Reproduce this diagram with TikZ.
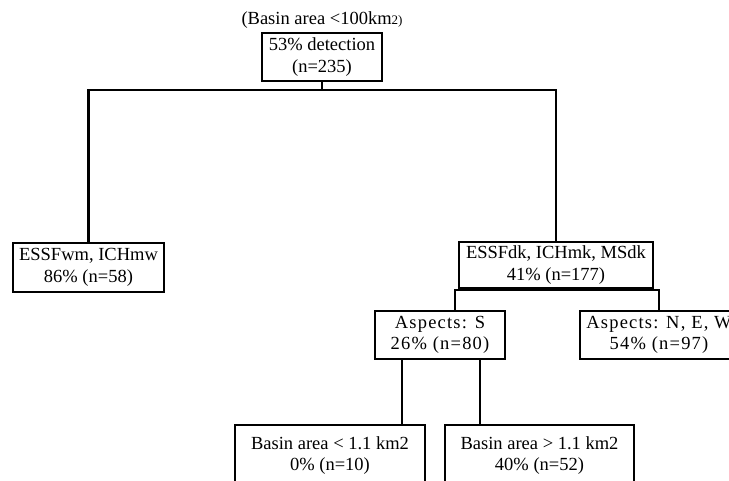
\documentclass[tikz,border=0pt]{standalone}
\usepackage{fontspec}
\setmainfont{Liberation Serif}
\begin{document}
\begin{tikzpicture}[x=1pt,y=-1pt,
  box/.style={draw=black, line width=2.2pt, fill=white, align=center,
    inner sep=0pt, font=\fontsize{18.5}{21.5}\selectfont},
  spaced/.style={font=\fontsize{18.5}{21.5}\selectfont\addfontfeature{LetterSpace=6.5}},
  conn/.style={draw=black, line width=2.4pt},
  lbl/.style={inner sep=0pt, font=\fontsize{18.5}{21.5}\selectfont}]
\useasboundingbox (0,0) rectangle (729,481);
\clip (0,0) rectangle (729,481);
% title
\node[lbl] (title) at (322,20) {(Basin area <100km{\fontsize{13}{15}\selectfont 2)}};
% nodes
\node[box, minimum width=120pt, minimum height=48pt] (top) at (322,57) {53\% detection\\(n=235)};
\node[box, minimum width=151pt, minimum height=49pt] (L1) at (88.5,267.5) {ESSFwm, ICHmw\\86\% (n=58)};
\node[box, minimum width=194pt, minimum height=46pt] (R1) at (556,265) {ESSFdk, ICHmk, MSdk\\41\% (n=177)};
\node[box, spaced, minimum width=130pt, minimum height=48pt] (S) at (440,335) {Aspects: S\\26\% (n=80)};
\node[box, spaced, minimum width=158pt, minimum height=48pt] (NEW) at (659,335) {Aspects: N, E, W\\54\% (n=97)};
\node[box, minimum width=190pt, minimum height=61pt] (B1) at (330,455.5) {Basin area < 1.1 km2\\0\% (n=10)};
\node[box, minimum width=189pt, minimum height=61pt] (B2) at (539.5,455.5) {Basin area > 1.1 km2\\40\% (n=52)};
% connectors
\coordinate (j0) at (322,90);
\coordinate (j1) at (556,290);
\draw[conn] (top.south) -- (j0);
\draw[conn] (L1.north) |- (j0) -| (R1.north);
\draw[conn] (R1.south) -- (j1);
\draw[conn] ([xshift=15pt]S.north) |- (j1) -| (NEW.north);
\draw[conn] ([xshift=-38pt]S.south) -- ([xshift=-38pt]S.south |- B1.north);
\draw[conn] ([xshift=40pt]S.south) -- ([xshift=40pt]S.south |- B2.north);
\end{tikzpicture}
\end{document}
